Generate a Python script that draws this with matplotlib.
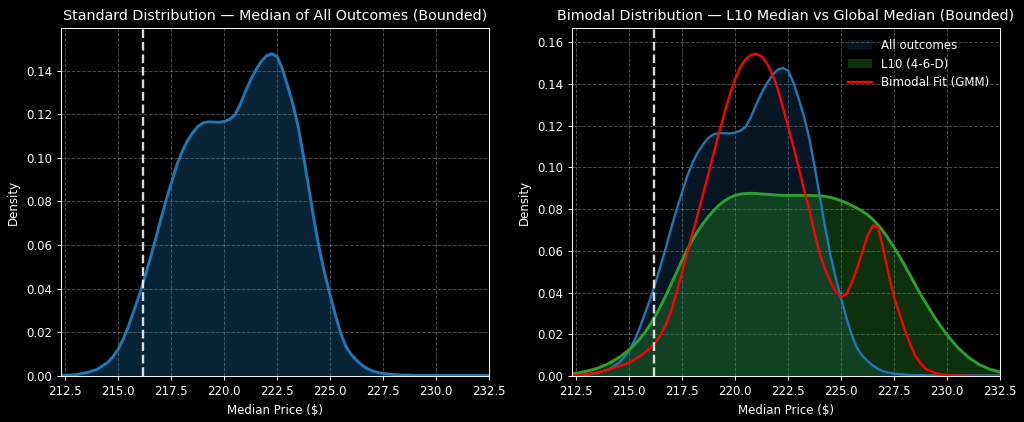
import matplotlib
matplotlib.use("Agg")
import matplotlib.pyplot as plt

# Sample positions (Median Price, $)
price = [212.3, 212.5, 213.0, 213.5, 214.0, 214.5,
         214.75, 215.0, 215.25, 215.5, 215.75, 216.0, 216.25, 216.5, 216.75, 217.0,
         217.25, 217.5, 217.75, 218.0, 218.25, 218.5, 218.75, 219.0, 219.25, 219.5,
         219.75, 220.0, 220.25, 220.5, 220.75, 221.0, 221.25, 221.5, 221.75, 222.0,
         222.25, 222.5, 222.75, 223.0, 223.25, 223.5, 223.75, 224.0, 224.25, 224.5,
         224.75, 225.0, 225.25, 225.5, 225.75, 226.0, 226.25, 226.5, 226.75, 227.0,
         227.25, 227.5, 227.75, 228.0, 228.25, 228.5, 228.75, 229.0,
         229.5, 230.0, 230.5, 231.0, 231.5, 232.0, 232.5]

# KDE of all outcomes
all_density = [0.0002, 0.0003, 0.0006, 0.0015, 0.0030, 0.0062,
               0.0088, 0.0123, 0.0172, 0.0232, 0.0302, 0.0372, 0.0450, 0.0535, 0.0623, 0.0715,
               0.0802, 0.0882, 0.0962, 0.1025, 0.1075, 0.1113, 0.1143, 0.1160, 0.1165, 0.1164,
               0.1163, 0.1167, 0.1176, 0.1196, 0.1243, 0.1303, 0.1357, 0.1403, 0.1442, 0.1468,
               0.1477, 0.1465, 0.1407, 0.1328, 0.1245, 0.1140, 0.1005, 0.0860, 0.0712, 0.0578,
               0.0470, 0.0372, 0.0280, 0.0197, 0.0135, 0.0098, 0.0072, 0.0050, 0.0034, 0.0023,
               0.0016, 0.0012, 0.0009, 0.0007, 0.0005, 0.0004, 0.0004, 0.0003,
               0.0003, 0.0003, 0.0003, 0.0003, 0.0003, 0.0003, 0.0003]

# KDE of L10 (4-6-D)
l10_density = [0.0011, 0.0013, 0.0023, 0.0037, 0.0058, 0.0088,
               0.0106, 0.0126, 0.0150, 0.0178, 0.0210, 0.0248, 0.0290, 0.0338, 0.0390, 0.0445,
               0.0500, 0.0556, 0.0608, 0.0655, 0.0697, 0.0733, 0.0766, 0.0795, 0.0820, 0.0840,
               0.0855, 0.0866, 0.0872, 0.0875, 0.0876, 0.0875, 0.0873, 0.0871, 0.0869, 0.0867,
               0.0866, 0.0866, 0.0866, 0.0866, 0.0866, 0.0866, 0.0865, 0.0864, 0.0861, 0.0856,
               0.0849, 0.0840, 0.0830, 0.0818, 0.0805, 0.0790, 0.0773, 0.0750, 0.0724, 0.0692,
               0.0656, 0.0617, 0.0575, 0.0530, 0.0485, 0.0438, 0.0392, 0.0350,
               0.0268, 0.0197, 0.0137, 0.0090, 0.0056, 0.0033, 0.0019]

# Bimodal GMM fit
gmm_density = [0.0003, 0.0004, 0.0009, 0.0017, 0.0030, 0.0046,
               0.0054, 0.0064, 0.0078, 0.0095, 0.0114, 0.0135, 0.0162, 0.0200, 0.0250, 0.0318,
               0.0405, 0.0500, 0.0595, 0.0688, 0.0782, 0.0878, 0.0975, 0.1075, 0.1170, 0.1262,
               0.1350, 0.1425, 0.1482, 0.1520, 0.1540, 0.1545, 0.1532, 0.1500, 0.1448, 0.1380,
               0.1290, 0.1195, 0.1100, 0.0998, 0.0895, 0.0800, 0.0685, 0.0585, 0.0510, 0.0452,
               0.0405, 0.0378, 0.0392, 0.0445, 0.0515, 0.0595, 0.0672, 0.0722, 0.0712, 0.0605,
               0.0485, 0.0378, 0.0300, 0.0222, 0.0155, 0.0098, 0.0060, 0.0034,
               0.0012, 0.0004, 0.0002, 0.0001, 0.0000, 0.0000, 0.0000]

global_median = 216.15
xticks = [212.5, 215.0, 217.5, 220.0, 222.5, 225.0, 227.5, 230.0, 232.5]

plt.style.use("dark_background")
plt.rcParams.update({
    "font.size": 8.5,
    "axes.linewidth": 0.7,
    "xtick.major.width": 0.7,
    "ytick.major.width": 0.7,
    "xtick.major.size": 3,
    "ytick.major.size": 3,
    "lines.solid_joinstyle": "round",
})
fig = plt.figure(figsize=(10.24, 4.22), dpi=100)
ax1 = fig.add_axes([61 / 1024, 1 - 376 / 422, 428 / 1024, 348 / 422])
ax2 = fig.add_axes([572 / 1024, 1 - 376 / 422, 428 / 1024, 348 / 422])

blue = "#1f77b4"
green = "#2ca02c"
red = "#ff0000"

# Left panel
ax1.fill_between(price, all_density, color=blue, alpha=0.3, lw=0)
ax1.plot(price, all_density, color=blue, lw=2.1)
ax1.axvline(global_median, color="white", ls="--", lw=1.7, alpha=0.85)
ax1.set_ylim(0, max(all_density) * 1.08)
ax1.set_title("Standard Distribution — Median of All Outcomes (Bounded)", fontsize=10.3)

# Right panel
ax2.fill_between(price, all_density, color=blue, alpha=0.2, lw=0, label="All outcomes")
ax2.plot(price, all_density, color=blue, lw=1.7)
ax2.fill_between(price, l10_density, color=green, alpha=0.3, lw=0, label="L10 (4-6-D)")
ax2.plot(price, l10_density, color=green, lw=2.1)
ax2.plot(price, gmm_density, color=red, lw=1.7, label="Bimodal Fit (GMM)")
ax2.axvline(global_median, color="white", ls="--", lw=1.7, alpha=0.85)
ax2.set_ylim(0, max(gmm_density) * 1.08)
ax2.set_title("Bimodal Distribution — L10 Median vs Global Median (Bounded)", fontsize=10.3)
ax2.legend(loc="upper right", frameon=False, fontsize=8.5)

for ax in (ax1, ax2):
    ax.set_xlim(212.3, 232.5)
    ax.set_xticks(xticks)
    ax.set_xticklabels([f"{t:.1f}" for t in xticks])
    ax.grid(True, ls="--", lw=0.7, alpha=0.3)
    ax.set_axisbelow(True)
    ax.set_xlabel("Median Price ($)")
    ax.set_ylabel("Density")

fig.savefig("out.png", dpi=100, facecolor="black")
